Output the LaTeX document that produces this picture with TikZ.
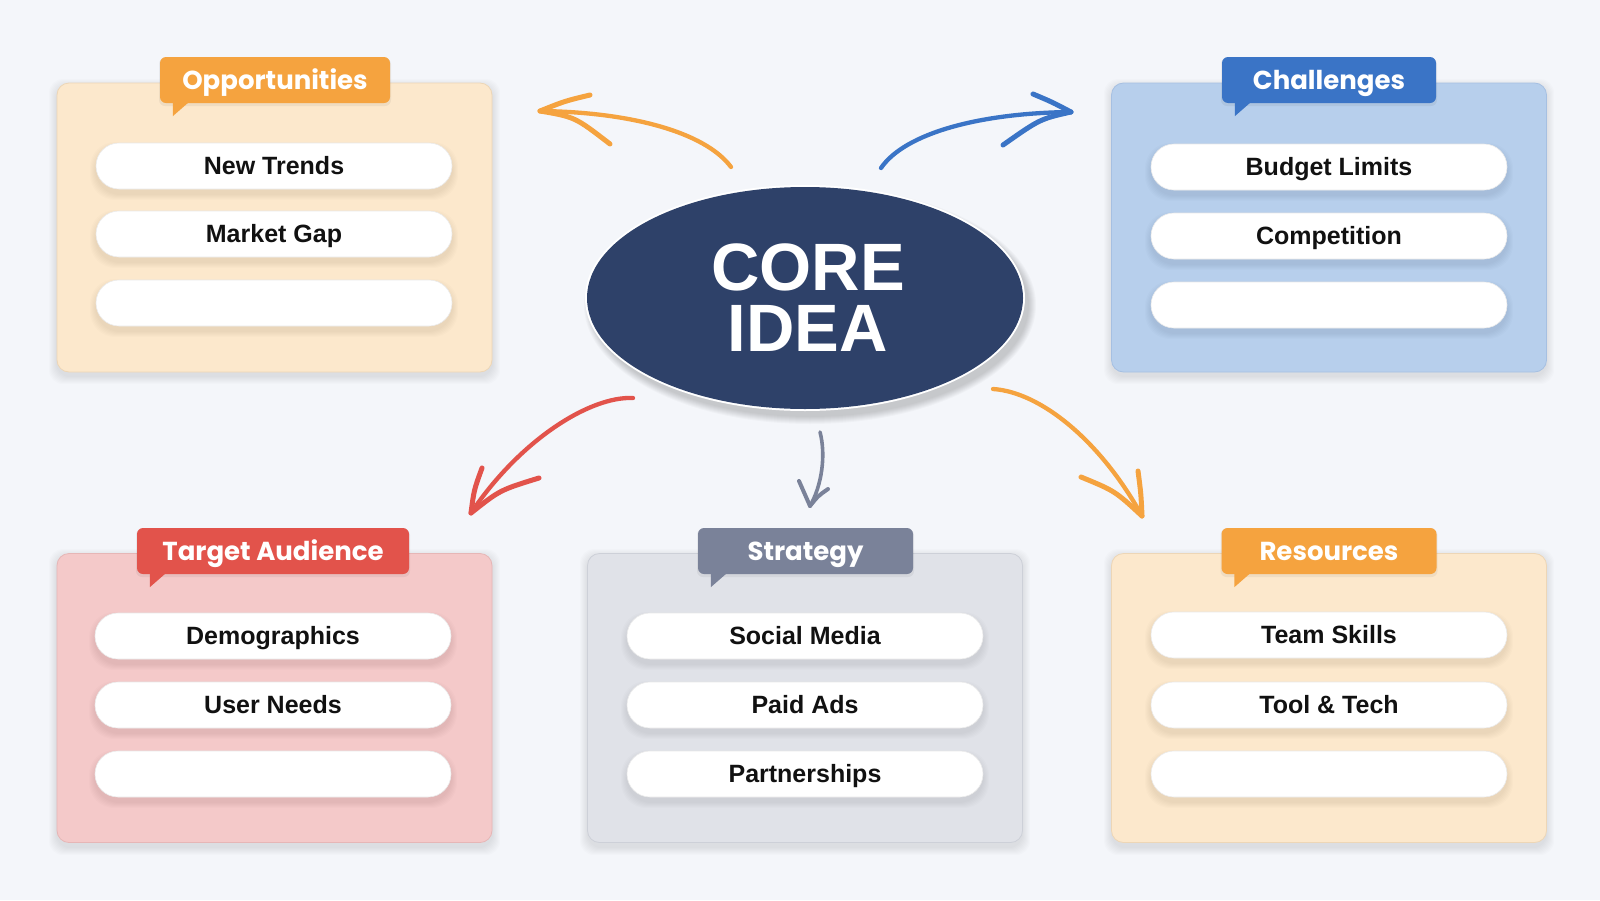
\documentclass[tikz,border=0pt]{standalone}
\usepackage{fontspec}
\setmainfont{Liberation Sans}
\newfontfamily\tagfont{Poppins}
\usetikzlibrary{calc,shapes.geometric}
\definecolor{bgc}{HTML}{F4F6FA}
\definecolor{peach}{HTML}{FCE8CC}
\definecolor{peachb}{HTML}{EDD6B6}
\definecolor{lblue}{HTML}{B7CFEC}
\definecolor{lblueb}{HTML}{A6C0E2}
\definecolor{pink}{HTML}{F4C9C9}
\definecolor{pinkb}{HTML}{E6B6B6}
\definecolor{lgray}{HTML}{E0E2E8}
\definecolor{lgrayb}{HTML}{CDD0D8}
\definecolor{tagor}{HTML}{F5A33F}
\definecolor{tagbl}{HTML}{3A74C6}
\definecolor{tagrd}{HTML}{E2534B}
\definecolor{taggy}{HTML}{7A8299}
\definecolor{navy}{HTML}{2E4169}
\definecolor{txt}{HTML}{111111}
\newcommand\boxshadow[5]{% x1 y1 x2 y2 radius
  \foreach \k in {1,...,8}{%
    \fill[black,opacity=0.011,rounded corners=#5]
      ({#1-\k},{#2-\k+4}) rectangle ({#3+\k},{#4+\k+4});}}
\newcommand\mypill[4]{% name x y text
  \foreach \k in {1,...,6}{%
    \fill[black,opacity=0.012,rounded corners=25pt]
      ({#2-178-\k},{#3-23-\k+5}) rectangle ({#2+178+\k},{#3+23+\k+5});}
  \node[pillbox] (#1) at (#2,#3) {#4};}
\newcommand\mytag[6]{% name x y width color text
  \fill[black,opacity=0.05,rounded corners=6pt] ({#2-#4/2-1},{#3-22}) rectangle ({#2+#4/2+1},{#3+26});
  \node[tagbox,fill=#5,minimum width=#4pt] (#1) at (#2,#3) {#6};
  \fill[#5] ($(#1.south west)+(13,-1)$) -- ($(#1.south west)+(29,-1)$) -- ($(#1.south west)+(13,13)$) -- cycle;}
\begin{document}
\begin{tikzpicture}[x=1pt,y=-1pt,
  panelbox/.style={rounded corners=12pt,line width=0.8pt,minimum width=435pt,minimum height=289pt,inner sep=0pt},
  pillbox/.style={rounded corners=23pt,fill=white,draw=black!8,line width=0.6pt,minimum width=356pt,minimum height=46pt,inner sep=0pt,text height=17.5pt,text depth=0pt,text=txt,font=\fontsize{25}{28}\selectfont\bfseries},
  tagbox/.style={rounded corners=6pt,minimum height=46pt,inner sep=0pt,text height=18.5pt,text depth=0pt,text=white,font=\tagfont\fontsize{26}{30}\selectfont\bfseries},
  arr/.style={line width=4.3pt,line cap=round,line join=round},
  barb/.style={line width=5pt,line cap=round,line join=round}]
\useasboundingbox (0,0) rectangle (1600,900);
\fill[bgc] (0,0) rectangle (1600,900);

% ---------- panels ----------
\boxshadow{57}{83}{492}{372}{14pt}
\node[panelbox,fill=peach,draw=peachb] (opp) at (274.5,227.5) {};
\boxshadow{1112}{83}{1546}{372}{14pt}
\node[panelbox,fill=lblue,draw=lblueb] (cha) at (1329,227.5) {};
\boxshadow{57}{553}{492}{843}{14pt}
\node[panelbox,fill=pink,draw=pinkb] (tar) at (274.5,698) {};
\boxshadow{588}{553}{1022}{843}{14pt}
\node[panelbox,fill=lgray,draw=lgrayb] (str) at (805,698) {};
\boxshadow{1112}{553}{1546}{843}{14pt}
\node[panelbox,fill=peach,draw=peachb] (res) at (1329,698) {};

% ---------- tags ----------
\mytag{oppT}{275}{80}{230}{tagor}{Opportunities}
\mytag{chaT}{1329}{80}{214}{tagbl}{Challenges}
\mytag{tarT}{273}{551}{272}{tagrd}{Target Audience}
\mytag{strT}{805.5}{551}{215}{taggy}{Strategy}
\mytag{resT}{1329}{551}{215}{tagor}{Resources}

% ---------- pills ----------
\mypill{o1}{274}{166}{New Trends}
\mypill{o2}{274}{234}{Market Gap}
\mypill{o3}{274}{303}{}
\mypill{c1}{1329}{167}{Budget Limits}
\mypill{c2}{1329}{236}{Competition}
\mypill{c3}{1329}{305}{}
\mypill{t1}{273}{636}{Demographics}
\mypill{t2}{273}{705}{User Needs}
\mypill{t3}{273}{774}{}
\mypill{s1}{805}{636}{Social Media}
\mypill{s2}{805}{705}{Paid Ads}
\mypill{s3}{805}{774}{Partnerships}
\mypill{r1}{1329}{635}{Team Skills}
\mypill{r2}{1329}{705}{Tool \& Tech}
\mypill{r3}{1329}{774}{}

% ---------- core ----------
\foreach \k in {1,...,8}{%
  \fill[black,opacity=0.022] (810,305) ellipse [x radius={218+\k},y radius={111+\k}];}
\fill[white] (805,298) ellipse [x radius=220,y radius=113];
\node[ellipse,fill=navy,minimum width=436pt,minimum height=222pt,inner sep=0pt] (core) at (805,298) {};
\node[text=white,font=\fontsize{67}{64}\selectfont\bfseries,align=center] (coret) at (808,298)
      {CORE\\[-3pt]IDEA};

% ---------- arrows ----------
\coordinate (aoS) at (731,167); \coordinate (aoT) at (540,111);
\coordinate (aoU) at (590,95);  \coordinate (aoL) at (610,144);
\draw[arr,tagor] (aoS) .. controls (705,132) and (630,112) .. (aoT);
\draw[barb,tagor] (aoT) .. controls (565,101) .. (aoU);
\draw[barb,tagor] (aoT) .. controls (575,117) .. (aoL);

\coordinate (abS) at (881,168); \coordinate (abT) at (1071,112);
\coordinate (abU) at (1033,94); \coordinate (abL) at (1003,145);
\draw[arr,tagbl] (abS) .. controls (905,133) and (980,113) .. (abT);
\draw[barb,tagbl] (abT) .. controls (1052,102) .. (abU);
\draw[barb,tagbl] (abT) .. controls (1040,119) .. (abL);

\coordinate (arS) at (633,398); \coordinate (arT) at (471,513);
\coordinate (arU) at (482,468); \coordinate (arL) at (539,478);
\draw[arr,tagrd] (arS) .. controls (590,396) and (520,440) .. (arT);
\draw[barb,tagrd] (arT) .. controls (474,490) .. (arU);
\draw[barb,tagrd] (arT) .. controls (500,490) .. (arL);

\coordinate (agS) at (820,432); \coordinate (agT) at (810,506);
\coordinate (agU) at (799,481); \coordinate (agL) at (828,489);
\draw[arr,taggy,line width=3.6pt] (agS) .. controls (826,455) and (822,485) .. (agT);
\draw[barb,taggy,line width=4pt] (agT) .. controls (804,494) .. (agU);
\draw[barb,taggy,line width=4pt] (agT) .. controls (818,496) .. (agL);

\coordinate (aeS) at (993,389); \coordinate (aeT) at (1142,516);
\coordinate (aeU) at (1138,471); \coordinate (aeL) at (1081,477);
\draw[arr,tagor] (aeS) .. controls (1040,392) and (1100,440) .. (aeT);
\draw[barb,tagor] (aeT) .. controls (1141,494) .. (aeU);
\draw[barb,tagor] (aeT) .. controls (1115,491) .. (aeL);
\end{tikzpicture}
\end{document}
